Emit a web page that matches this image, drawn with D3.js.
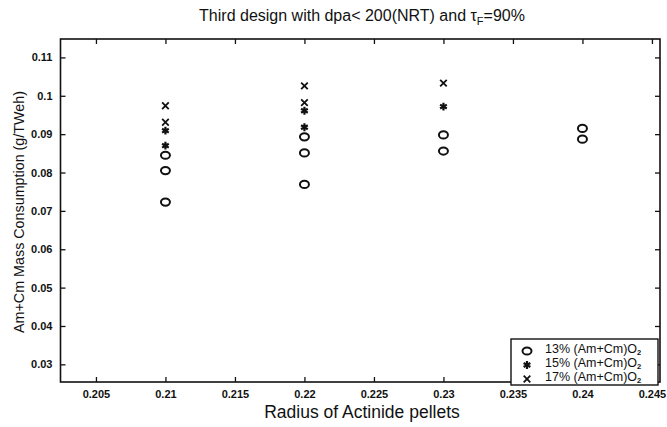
<!DOCTYPE html>
<html><head><meta charset="utf-8">
<script src="https://cdn.jsdelivr.net/npm/d3@7"></script>
<style>body{margin:0;background:#fff}svg{display:block}</style>
</head><body>
<script>
const xTicks = [0.205,0.21,0.215,0.22,0.225,0.23,0.235,0.24,0.245];
const yTicks = [0.03,0.04,0.05,0.06,0.07,0.08,0.09,0.1,0.11];
const radius13 = [0.21,0.21,0.21,0.22,0.22,0.22,0.23,0.23,0.24,0.24];
const cons13   = [0.0845,0.0805,0.0723,0.0893,0.0851,0.0769,0.0898,0.0856,0.0915,0.0887];
const radius15 = [0.21,0.21,0.22,0.22,0.23];
const cons15   = [0.0909,0.0870,0.0961,0.0918,0.0972];
const radius17 = [0.21,0.21,0.22,0.22,0.23];
const cons17   = [0.0974,0.0931,0.1026,0.0982,0.1033];
const legendLabels = ["13% (Am+Cm)O","15% (Am+Cm)O","17% (Am+Cm)O"];

const W=667,H=427;
const L=60.5,R=660,T=39,B=382;
const svg=d3.select("body").append("svg").attr("width",W).attr("height",H);
const x=d3.scaleLinear().domain([0.20245,0.24558]).range([L,R]);
const y=d3.scaleLinear().domain([0.0254,0.1148]).range([B,T]);
const font="Liberation Sans, Arial, Helvetica, sans-serif";
const tl=5;

const axB=svg.append("g").attr("transform",`translate(0,${B})`)
  .call(d3.axisBottom(x).tickValues(xTicks).tickSizeInner(-tl).tickSizeOuter(0).tickPadding(8).tickFormat(d=>d3.format("")(+d.toFixed(3))));
const axT=svg.append("g").attr("transform",`translate(0,${T})`)
  .call(d3.axisTop(x).tickValues(xTicks).tickSizeInner(-tl).tickSizeOuter(0).tickFormat(""));
const axL=svg.append("g").attr("transform",`translate(${L},0)`)
  .call(d3.axisLeft(y).tickValues(yTicks).tickSizeInner(-tl).tickSizeOuter(0).tickPadding(8).tickFormat(d=>d3.format("")(+d.toFixed(2))));
const axR=svg.append("g").attr("transform",`translate(${R},0)`)
  .call(d3.axisRight(y).tickValues(yTicks).tickSizeInner(-tl).tickSizeOuter(0).tickFormat(""));
[axB,axT,axL,axR].forEach(a=>{a.select(".domain").remove();a.selectAll("line").attr("stroke","#111").attr("stroke-width",1.3);
  a.selectAll("text").attr("font-family",font).attr("font-size",11).attr("font-weight","bold").attr("fill","#111");});
svg.append("rect").attr("x",L).attr("y",T).attr("width",R-L).attr("height",B-T)
  .attr("fill","none").attr("stroke","#111").attr("stroke-width",1.6);

// markers
const g=svg.append("g");
function circ(sel,cx,cy){sel.append("ellipse").attr("cx",cx).attr("cy",cy).attr("rx",4.5).attr("ry",3.6)
  .attr("fill","none").attr("stroke","#111").attr("stroke-width",2);}
radius13.forEach((r,i)=>circ(g,x(r),y(cons13[i])));
const star=d3.symbol().type(d3.symbolAsterisk).size(42);
const cross=d3.symbol().type(d3.symbolX).size(30);
radius15.forEach((r,i)=>g.append("path").attr("d",star).attr("transform",`translate(${x(r)},${y(cons15[i])})`)
  .attr("fill","none").attr("stroke","#111").attr("stroke-width",2.2));
radius17.forEach((r,i)=>g.append("path").attr("d",cross).attr("transform",`translate(${x(r)},${y(cons17[i])})`)
  .attr("fill","none").attr("stroke","#111").attr("stroke-width",1.8));

// legend
const lg=svg.append("g");
lg.append("rect").attr("x",511).attr("y",339).attr("width",147).attr("height",46)
  .attr("fill","#fff").attr("stroke","#111").attr("stroke-width",1.4);
const rows=[350,364,378];
circ(lg,527,rows[0]+1);
lg.append("path").attr("d",star).attr("transform",`translate(527,${rows[1]+1})`).attr("fill","none").attr("stroke","#111").attr("stroke-width",2.2);
lg.append("path").attr("d",cross).attr("transform",`translate(527,${rows[2]+1})`).attr("fill","none").attr("stroke","#111").attr("stroke-width",1.8);
legendLabels.forEach((t,i)=>{
  const tx=lg.append("text").attr("x",545).attr("y",rows[i]+3).attr("font-family",font).attr("font-size",12.5).attr("fill","#111");
  tx.append("tspan").text(t);
  tx.append("tspan").attr("dy",2).attr("font-size",7.5).attr("font-weight","bold").text("2");
});

// title
const tt=svg.append("text").attr("x",362).attr("y",21).attr("text-anchor","middle")
  .attr("font-family",font).attr("font-size",16).attr("fill","#111");
tt.append("tspan").text("Third design with dpa< 200(NRT) and τ");
tt.append("tspan").attr("dy",4).attr("font-size",11).text("F");
tt.append("tspan").attr("dy",-4).text("=90%");

svg.append("text").attr("x",362).attr("y",418).attr("text-anchor","middle")
  .attr("font-family",font).attr("font-size",17.5).attr("fill","#111").text("Radius of Actinide pellets");
svg.append("text").attr("transform","translate(24,212) rotate(-90)").attr("text-anchor","middle")
  .attr("font-family",font).attr("font-size",15).attr("textLength",242).attr("lengthAdjust","spacingAndGlyphs")
  .attr("fill","#111").text("Am+Cm Mass Consumption (g/TWeh)");
</script>
</body></html>
